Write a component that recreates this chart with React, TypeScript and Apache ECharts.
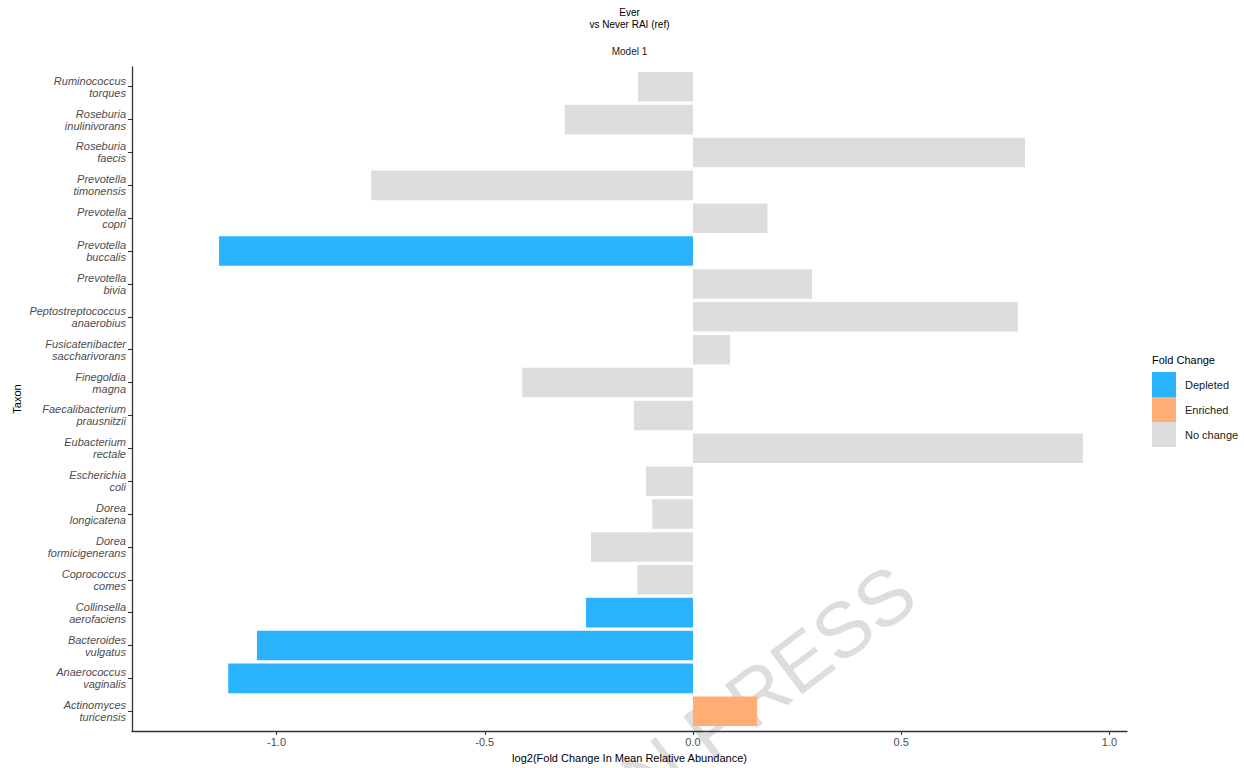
import React, { useEffect, useRef } from "react";
import * as echarts from "echarts";

// Taxa, top to bottom
const taxa = [
  "Ruminococcus\ntorques",
  "Roseburia\ninulinivorans",
  "Roseburia\nfaecis",
  "Prevotella\ntimonensis",
  "Prevotella\ncopri",
  "Prevotella\nbuccalis",
  "Prevotella\nbivia",
  "Peptostreptococcus\nanaerobius",
  "Fusicatenibacter\nsaccharivorans",
  "Finegoldia\nmagna",
  "Faecalibacterium\nprausnitzii",
  "Eubacterium\nrectale",
  "Escherichia\ncoli",
  "Dorea\nlongicatena",
  "Dorea\nformicigenerans",
  "Coprococcus\ncomes",
  "Collinsella\naerofaciens",
  "Bacteroides\nvulgatus",
  "Anaerococcus\nvaginalis",
  "Actinomyces\nturicensis",
];

// log2 fold change in mean relative abundance
const foldChange = [
  -0.132, -0.308, 0.797, -0.773, 0.179, -1.138, 0.286, 0.78, 0.089, -0.41,
  -0.142, 0.936, -0.113, -0.098, -0.245, -0.134, -0.257, -1.047, -1.116, 0.154,
];

const changeClass = [
  "No change", "No change", "No change", "No change", "No change",
  "Depleted", "No change", "No change", "No change", "No change",
  "No change", "No change", "No change", "No change", "No change",
  "No change", "Depleted", "Depleted", "Depleted", "Enriched",
];

const classLevels = ["Depleted", "Enriched", "No change"];
const classColors = ["#29B4FD", "#FFAD75", "#DDDDDD"];

const xTicks = [-1, -0.5, 0, 0.5, 1];
const xMin = -1.347;
const xMax = 1.042;

const FONT = "'Liberation Sans', Arial, sans-serif";

export default function App() {
  const ref = useRef<HTMLDivElement>(null);

  useEffect(() => {
    if (!ref.current) return;
    const chart = echarts.init(ref.current, null, { renderer: "svg" });

    const series = classLevels.map((level, k) => ({
      type: "custom",
      name: level,
      itemStyle: { color: classColors[k] },
      encode: { x: 0, y: 1 },
      data: taxa
        .map((_, i) => [foldChange[i], i, changeClass[i]])
        .filter((d) => d[2] === level)
        .map((d) => [d[0], d[1]]),
      renderItem: (params: any, api: any) => {
        const v = api.value(0);
        const i = api.value(1);
        const p0 = api.coord([0, i]);
        const p1 = api.coord([v, i]);
        const h = Math.abs(api.size([0, 0.9])[1]);
        return {
          type: "rect",
          shape: {
            x: Math.min(p0[0], p1[0]),
            y: p0[1] - h / 2,
            width: Math.abs(p1[0] - p0[0]),
            height: h,
          },
          style: { fill: classColors[k] },
        };
      },
    }));

    const plotCenterX = (132 + (1244 - 117)) / 2;

    chart.setOption({
      animation: false,
      backgroundColor: "#ffffff",
      textStyle: { fontFamily: FONT },
      grid: { left: 132, right: 117, top: 67, bottom: 34, containLabel: false },
      xAxis: {
        type: "value",
        min: xMin,
        max: xMax,
        name: "log2(Fold Change In Mean Relative Abundance)",
        nameLocation: "middle",
        nameGap: 21,
        nameMoveOverlap: false,
        nameTextStyle: { fontSize: 11, color: "#000", fontFamily: FONT, verticalAlign: "top" },
        axisLine: { show: true, onZero: false, lineStyle: { color: "#333", width: 1.3 } },
        axisTick: { show: true, length: 4, customValues: xTicks, lineStyle: { color: "#333", width: 1.1 } },
        axisLabel: {
          customValues: xTicks,
          formatter: (v: number) => v.toFixed(1),
          fontSize: 11,
          color: "#4d4d4d",
          margin: 5,
          fontFamily: FONT,
        },
        splitLine: { show: false },
      },
      yAxis: {
        type: "value",
        inverse: true,
        min: -0.6,
        max: taxa.length - 1 + 0.6,
        name: "Taxon",
        nameLocation: "middle",
        nameGap: 110,
        nameMoveOverlap: false,
        nameRotate: 90,
        nameTextStyle: { fontSize: 11, color: "#000", fontFamily: FONT },
        axisLine: { show: true, onZero: false, lineStyle: { color: "#333", width: 1.3 } },
        axisTick: {
          show: true,
          length: 4,
          customValues: taxa.map((_, i) => i),
          lineStyle: { color: "#333", width: 1.1 },
        },
        axisLabel: {
          customValues: taxa.map((_, i) => i),
          formatter: (v: number) => taxa[Math.round(v)],
          fontSize: 11,
          lineHeight: 12,
          fontStyle: "italic",
          color: "#4d4d4d",
          margin: 6,
          fontFamily: FONT,
        },
        splitLine: { show: false },
      },
      legend: {
        data: classLevels,
        orient: "vertical",
        left: 1152,
        top: 372,
        padding: 0,
        itemWidth: 24,
        itemHeight: 25,
        itemGap: 0,
        icon: "rect",
        selectedMode: false,
        textStyle: { fontSize: 11, color: "#1a1a1a", fontFamily: FONT, padding: [0, 0, 0, 4] },
      },
      graphic: [
        {
          type: "text",
          z: -10,
          x: 760,
          y: 692,
          rotation: (37 * Math.PI) / 180,
          silent: true,
          style: {
            text: "IN PRESS",
            fill: "#dddddd",
            font: `78px ${FONT}`,
            textAlign: "center",
            textVerticalAlign: "middle",
          },
        },
        {
          type: "text",
          x: plotCenterX,
          y: 6,
          style: {
            text: "Ever\nvs Never RAI (ref)",
            fill: "#000",
            font: `10px ${FONT}`,
            lineHeight: 12,
            textAlign: "center",
          },
        },
        {
          type: "text",
          x: plotCenterX,
          y: 51,
          style: {
            text: "Model 1",
            fill: "#1a1a1a",
            font: `10px ${FONT}`,
            textAlign: "center",
            textVerticalAlign: "middle",
          },
        },
        {
          type: "text",
          x: 1152,
          y: 360,
          style: {
            text: "Fold Change",
            fill: "#000",
            font: `11px ${FONT}`,
            textAlign: "left",
            textVerticalAlign: "middle",
          },
        },
      ],
      series,
    });

    return () => chart.dispose();
  }, []);

  return (
    <div
      ref={ref}
      style={{ position: "absolute", left: 0, top: 0, width: 1244, height: 768, background: "#fff" }}
    />
  );
}
